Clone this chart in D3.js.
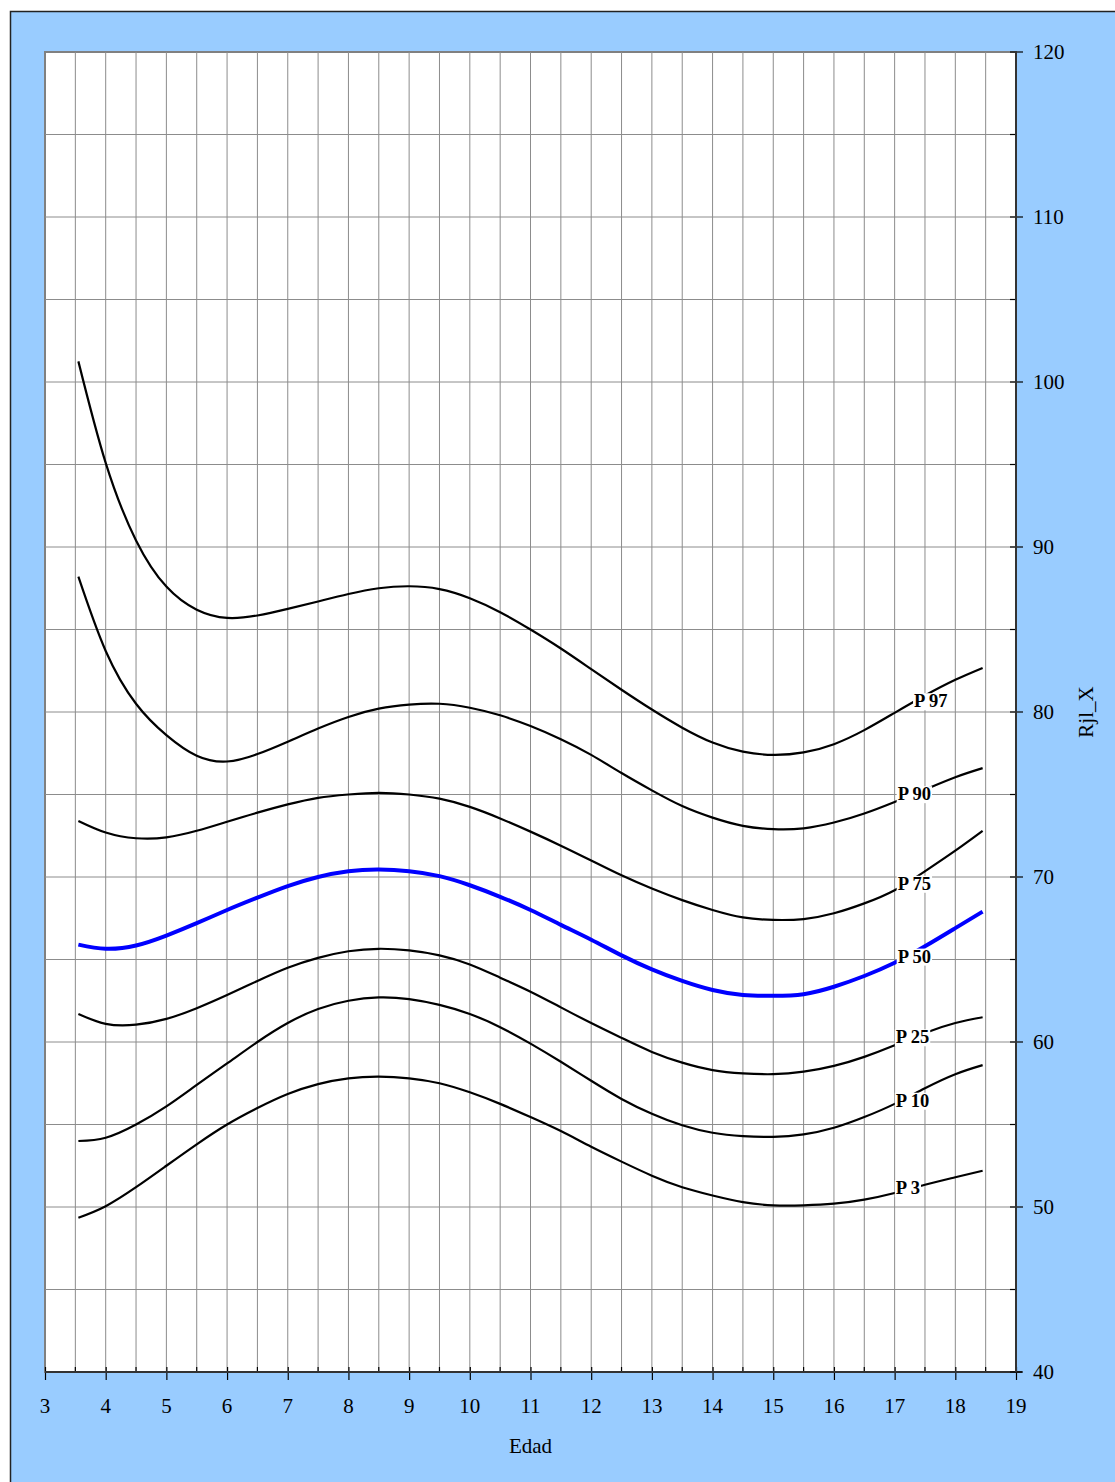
<!DOCTYPE html>
<html lang="es">
<head>
<meta charset="utf-8">
<title>Rjl_X por edad</title>
<script src="https://cdn.jsdelivr.net/npm/d3@7"></script>
<style>
  body { margin: 0; background: #ffffff; }
  .tick-label { font-family: "Liberation Serif", "Times New Roman", serif; font-size: 21px; fill: #000; }
  .axis-title { font-family: "Liberation Serif", "Times New Roman", serif; font-size: 21px; fill: #000; }
  .pLabel { font-family: "Liberation Serif", "Times New Roman", serif; font-size: 18.5px; font-weight: bold; fill: #000; }
</style>
</head>
<body>
<script>
// ages where the curves were read
var ages = [3.55, 4, 4.5, 5, 5.5, 6, 6.5, 7, 7.5, 8, 8.5, 9, 9.5, 10, 10.5, 11, 11.5,
            12, 12.5, 13, 13.5, 14, 14.5, 15, 15.5, 16, 16.5, 17, 17.5, 18, 18.45];

var p97 = [101.25, 95.1, 90.4, 87.6, 86.2, 85.7, 85.85, 86.25, 86.7, 87.15, 87.5, 87.62, 87.45, 86.9, 86.05, 85.0,
           83.85, 82.6, 81.35, 80.15, 79.05, 78.15, 77.6, 77.4, 77.55, 78.05, 78.9, 79.95, 81.0, 81.95, 82.67];
var p90 = [88.2, 83.7, 80.5, 78.6, 77.35, 77.0, 77.45, 78.2, 79.0, 79.7, 80.2, 80.45, 80.5, 80.26, 79.8, 79.15,
           78.35, 77.4, 76.3, 75.25, 74.3, 73.6, 73.1, 72.9, 72.95, 73.3, 73.85, 74.55, 75.3, 76.05, 76.6];
var p75 = [73.4, 72.7, 72.35, 72.4, 72.8, 73.35, 73.9, 74.4, 74.8, 75.0, 75.1, 75.0, 74.75, 74.25, 73.55, 72.75,
           71.9, 71.0, 70.1, 69.3, 68.6, 68.0, 67.55, 67.4, 67.45, 67.8, 68.4, 69.2, 70.35, 71.6, 72.8];
var p50 = [65.9, 65.65, 65.85, 66.45, 67.2, 68.0, 68.75, 69.45, 70.0, 70.35, 70.45, 70.35, 70.05, 69.5, 68.8, 68.0,
           67.1, 66.2, 65.25, 64.4, 63.7, 63.15, 62.85, 62.8, 62.9, 63.35, 64.0, 64.8, 65.8, 66.9, 67.9];
var p25 = [61.7, 61.1, 61.05, 61.4, 62.05, 62.85, 63.7, 64.5, 65.1, 65.5, 65.65, 65.55, 65.25, 64.7, 63.9, 63.05,
           62.1, 61.15, 60.25, 59.4, 58.75, 58.3, 58.1, 58.05, 58.2, 58.55, 59.1, 59.8, 60.55, 61.15, 61.5];
var p10 = [54.0, 54.2, 55.0, 56.1, 57.4, 58.7, 60.0, 61.15, 62.0, 62.5, 62.7, 62.6, 62.25, 61.7, 60.9, 59.9,
           58.8, 57.65, 56.55, 55.65, 54.95, 54.5, 54.3, 54.25, 54.4, 54.8, 55.45, 56.25, 57.2, 58.05, 58.6];
var p3  = [49.35, 50.05, 51.2, 52.5, 53.8, 55.0, 56.0, 56.85, 57.45, 57.8, 57.9, 57.8, 57.5, 56.95, 56.25, 55.45,
           54.6, 53.65, 52.75, 51.9, 51.2, 50.7, 50.3, 50.1, 50.1, 50.2, 50.45, 50.85, 51.35, 51.8, 52.2];

var seriesNames = ["P 97", "P 90", "P 75", "P 50", "P 25", "P 10", "P 3"];
var seriesValues = [p97, p90, p75, p50, p25, p10, p3];

var xTicks = d3.range(3, 20, 1);
var yTicks = d3.range(40, 121, 10);

var W = 1115, H = 1482;
var plot = { left: 45, top: 52, right: 1016, bottom: 1372 };

var svg = d3.select("body").append("svg")
    .attr("width", W)
    .attr("height", H);

// blue outer panel
svg.append("rect")
    .attr("x", 10.5).attr("y", 11.5)
    .attr("width", 1200).attr("height", 1600)
    .attr("fill", "#99CCFF")
    .attr("stroke", "#222").attr("stroke-width", 1.5);

var x = d3.scaleLinear().domain([3, 19]).range([plot.left, plot.right]);
var y = d3.scaleLinear().domain([40, 120]).range([plot.bottom, plot.top]);

// plot area
svg.append("rect")
    .attr("x", plot.left).attr("y", plot.top)
    .attr("width", plot.right - plot.left).attr("height", plot.bottom - plot.top)
    .attr("fill", "#ffffff")
    .attr("stroke", "#808080").attr("stroke-width", 2);

// gridlines
var grid = svg.append("g").attr("stroke", "#8c8c8c").attr("stroke-width", 1);
grid.selectAll(".vg")
    .data(d3.range(3.5, 19, 0.5))
    .enter().append("line")
    .attr("x1", function(d) { return x(d); }).attr("x2", function(d) { return x(d); })
    .attr("y1", plot.top).attr("y2", plot.bottom);
grid.selectAll(".hg")
    .data(d3.range(45, 120, 5))
    .enter().append("line")
    .attr("y1", function(d) { return y(d); }).attr("y2", function(d) { return y(d); })
    .attr("x1", plot.left).attr("x2", plot.right);

// curves
var line = d3.line()
    .x(function(d) { return x(d[0]); })
    .y(function(d) { return y(d[1]); })
    .curve(d3.curveNatural);

seriesValues.forEach(function(vals, i) {
    var pts = ages.map(function(a, j) { return [a, vals[j]]; });
    var isMed = seriesNames[i] === "P 50";
    svg.append("path")
        .datum(pts)
        .attr("d", line)
        .attr("fill", "none")
        .attr("stroke", isMed ? "#0000FF" : "#000000")
        .attr("stroke-width", isMed ? 4 : 2.2);
});

// x axis (bottom)
var xAxis = d3.axisBottom(x).tickValues(xTicks).tickSizeInner(0).tickSizeOuter(0).tickPadding(0);
var gx = svg.append("g").attr("transform", "translate(0," + plot.bottom + ")").call(xAxis);
gx.select(".domain").remove();
gx.selectAll("text").remove();
gx.selectAll(".tick").append("line").attr("y1", -5).attr("y2", 8).attr("stroke", "#000").attr("stroke-width", 1.2);
svg.append("g").selectAll("line")
    .data(d3.range(3.5, 19, 1))
    .enter().append("line")
    .attr("x1", function(d) { return x(d); }).attr("x2", function(d) { return x(d); })
    .attr("y1", plot.bottom - 5).attr("y2", plot.bottom)
    .attr("stroke", "#000").attr("stroke-width", 1.2);
svg.append("line")
    .attr("x1", plot.left).attr("x2", plot.right + 6)
    .attr("y1", plot.bottom).attr("y2", plot.bottom)
    .attr("stroke", "#333").attr("stroke-width", 2);
svg.append("g").selectAll("text")
    .data(xTicks)
    .enter().append("text")
    .attr("class", "tick-label")
    .attr("x", function(d) { return x(d); })
    .attr("y", 1413)
    .attr("text-anchor", "middle")
    .text(function(d) { return d; });

// y axis (right)
svg.append("g").selectAll("line")
    .data(d3.range(40, 121, 5))
    .enter().append("line")
    .attr("x1", plot.right - 6)
    .attr("x2", function(d) { return d % 10 === 0 ? plot.right + 7 : plot.right; })
    .attr("y1", function(d) { return y(d); }).attr("y2", function(d) { return y(d); })
    .attr("stroke", "#000").attr("stroke-width", 1.2);
svg.append("line")
    .attr("x1", plot.right).attr("x2", plot.right)
    .attr("y1", plot.top).attr("y2", plot.bottom)
    .attr("stroke", "#333").attr("stroke-width", 2);
svg.append("g").selectAll("text")
    .data(yTicks)
    .enter().append("text")
    .attr("class", "tick-label")
    .attr("x", 1033)
    .attr("y", function(d) { return y(d); })
    .attr("dy", "0.35em")
    .text(function(d) { return d; });

// axis titles
svg.append("text")
    .attr("class", "axis-title")
    .attr("x", (plot.left + plot.right) / 2)
    .attr("y", 1453)
    .attr("text-anchor", "middle")
    .text("Edad");
svg.append("text")
    .attr("class", "axis-title")
    .attr("transform", "translate(1093," + ((plot.top + plot.bottom) / 2) + ") rotate(-90)")
    .attr("text-anchor", "middle")
    .text("Rjl_X");

// percentile labels with white boxes
var labelPos = {
    "P 97": { age: 17.32, dy: -1 },
    "P 90": { age: 17.05, dy: -7 },
    "P 75": { age: 17.05, dy: -5 },
    "P 50": { age: 17.05, dy: -5 },
    "P 25": { age: 17.02, dy: -8 },
    "P 10": { age: 17.02, dy: -3 },
    "P 3":  { age: 17.02, dy: -5 }
};
var labels = svg.append("g");
seriesNames.forEach(function(name, i) {
    var lp = labelPos[name];
    var v = d3.scaleLinear().domain(ages).range(seriesValues[i])(lp.age);
    var g = labels.append("g");
    var t = g.append("text")
        .attr("class", "pLabel")
        .attr("x", x(lp.age))
        .attr("y", y(v) + lp.dy)
        .attr("dy", "0.35em")
        .text(name);
    var bb = t.node().getBBox();
    g.insert("rect", "text")
        .attr("x", bb.x - 1).attr("y", bb.y + 2)
        .attr("width", bb.width + 2).attr("height", bb.height - 3)
        .attr("fill", "#ffffff");
});
</script>
</body>
</html>
